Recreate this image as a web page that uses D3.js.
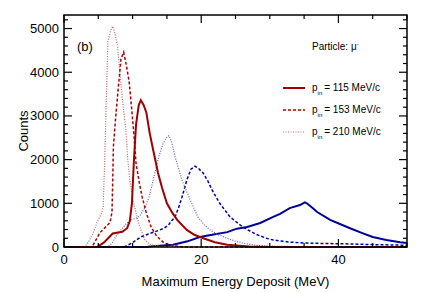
<!DOCTYPE html>
<html>
<head>
<meta charset="utf-8">
<script src="https://cdn.jsdelivr.net/npm/d3@7"></script>
<style>
  body { margin: 0; background: #fff; }
  text { font-family: "Liberation Sans", Arial, Helvetica, sans-serif; fill: #000; }
</style>
</head>
<body>
<div id="chart"></div>
<script>
// energy deposit (MeV), counts
var redSolid = [[0,0],[4.8,0],[5.8,100],[7.1,310],[8.5,350],[9.2,430],[9.6,600],[9.9,1000],[10.2,2000],[10.5,2800],[10.9,3250],[11.2,3360],[11.6,3250],[12.0,3080],[12.5,2600],[13.0,2220],[13.7,1700],[14.3,1350],[15.0,1000],[15.8,780],[16.5,620],[17.9,390],[19.0,280],[20.3,200],[22.0,110],[23.8,50],[27,10],[30,0],[50,0]];
var redDashed = [[0,0],[4.1,0],[5.2,320],[6.2,480],[6.7,560],[7.0,800],[7.1,1500],[7.2,2300],[7.5,2900],[7.8,3450],[8.3,4300],[8.7,4460],[9.1,4150],[9.5,3780],[9.9,3100],[10.2,2560],[10.5,1920],[11.0,1450],[11.4,1140],[12.0,780],[12.7,460],[13.5,250],[14.6,90],[16,30],[17.5,0],[50,0]];
var redDotted = [[0,0],[3.0,0],[3.5,100],[4.2,300],[4.8,560],[5.5,780],[5.7,900],[5.9,1800],[6.1,3000],[6.4,4700],[6.8,4950],[7.1,5050],[7.4,4900],[7.8,4600],[8.2,3900],[8.5,3400],[9.0,2700],[9.3,2000],[9.6,1530],[10.0,1100],[10.5,780],[11.0,480],[11.8,160],[12.5,60],[14,10],[15,0],[50,0]];
var blueSolid = [[0,0],[12,0],[13,20],[15.9,50],[18,130],[19.8,230],[22,290],[23.8,340],[25.2,420],[26.7,460],[28.6,550],[30.5,690],[31.5,760],[32.9,890],[34.4,960],[35.1,1020],[35.4,1000],[36.2,900],[36.9,800],[38.8,620],[40.3,520],[41.7,430],[43.3,330],[45,230],[47,160],[49,110],[50,90]];
var blueDashed = [[0,0],[8.7,0],[9.9,90],[11.2,230],[12.7,320],[13.8,380],[14.6,430],[15.2,500],[15.7,600],[16.2,690],[16.7,900],[17.2,1140],[17.9,1530],[18.5,1780],[19.1,1850],[19.6,1800],[20.3,1690],[21.0,1500],[21.6,1300],[22.7,1000],[24.2,690],[25.7,500],[26.7,400],[28.0,290],[29.5,200],[30.5,160],[33,110],[35.4,90],[38,80],[41.7,70],[45,55],[50,40]];
var blueDotted = [[0,0],[6.4,0],[7.0,90],[7.6,250],[8.3,390],[9.0,520],[9.8,620],[10.5,660],[11.0,700],[11.8,900],[12.4,1140],[13.1,1600],[13.8,2060],[14.4,2350],[15.0,2520],[15.3,2550],[15.7,2400],[16.2,2060],[17.2,1530],[18.4,1075],[19.5,690],[20.5,500],[21.3,390],[22.5,280],[23.8,200],[25,130],[26.7,70],[28,40],[30,20],[35,5],[50,0]];

var xTickLabels = [0, 20, 40];
var yTickLabels = [0, 1000, 2000, 3000, 4000, 5000];
var legendMomenta = ['115', '153', '210'];

var W = 429, H = 292;
var x = d3.scaleLinear().domain([0, 50]).range([64, 407]);
var y = d3.scaleLinear().domain([0, 5310]).range([247, 15]);

var svg = d3.select('#chart').append('svg')
	.attr('width', W).attr('height', H);

// spectra: blue first, red on top
var series = [
	{ data: blueSolid,  color: '#000099', width: 2,   dash: null },
	{ data: blueDashed, color: '#0000b0', width: 1.5, dash: '3,2' },
	{ data: blueDotted, color: '#5a5acc', width: 1.2, dash: '1,1.5' },
	{ data: redDotted,  color: '#c86464', width: 1.2, dash: '1,1.5' },
	{ data: redDashed,  color: '#b00000', width: 1.5, dash: '3,2' },
	{ data: redSolid,   color: '#a00000', width: 2,   dash: null }
];

var line = d3.line()
	.x(function(d) { return x(d[0]); })
	.y(function(d) { return y(d[1]); });

series.forEach(function(s) {
	svg.append('path')
		.attr('d', line(s.data))
		.attr('fill', 'none')
		.attr('stroke', s.color)
		.attr('stroke-width', s.width)
		.attr('stroke-dasharray', s.dash);
});

// frame + inward ticks (ROOT style)
var axisG = svg.append('g').attr('stroke', '#000');
axisG.append('rect')
	.attr('x', x(0)).attr('y', y.range()[1])
	.attr('width', x(50) - x(0)).attr('height', y(0) - y.range()[1])
	.attr('fill', 'none').attr('stroke-width', 1.5);

d3.range(0, 51, 5).forEach(function(v) {
	var len = (v % 20 === 0) ? 8 : 4;
	var px = x(v);
	axisG.append('line').attr('x1', px).attr('x2', px).attr('y1', 247).attr('y2', 247 - len).attr('stroke-width', 1.2);
	axisG.append('line').attr('x1', px).attr('x2', px).attr('y1', 15).attr('y2', 15 + len).attr('stroke-width', 1.2);
});
d3.range(0, 5301, 200).forEach(function(v) {
	var len = (v % 1000 === 0) ? 8 : 4;
	var py = y(v);
	axisG.append('line').attr('x1', 64).attr('x2', 64 + len).attr('y1', py).attr('y2', py).attr('stroke-width', 1.2);
	axisG.append('line').attr('x1', 407).attr('x2', 407 - len).attr('y1', py).attr('y2', py).attr('stroke-width', 1.2);
});

svg.selectAll('.xlab').data(xTickLabels).enter().append('text')
	.attr('x', function(d) { return x(d); })
	.attr('y', 264)
	.attr('text-anchor', 'middle')
	.attr('font-size', '13px')
	.text(function(d) { return d; });

svg.selectAll('.ylab').data(yTickLabels).enter().append('text')
	.attr('x', 59)
	.attr('y', function(d) { return y(d) + 4.5; })
	.attr('text-anchor', 'end')
	.attr('font-size', '13px')
	.text(function(d) { return d; });

svg.append('text')
	.attr('x', 235.5).attr('y', 286)
	.attr('text-anchor', 'middle')
	.attr('font-size', '13px')
	.text('Maximum Energy Deposit (MeV)');

svg.append('text')
	.attr('transform', 'translate(28,131) rotate(-90)')
	.attr('text-anchor', 'middle')
	.attr('font-size', '13px')
	.text('Counts');

svg.append('text')
	.attr('x', 77).attr('y', 51)
	.attr('font-size', '13px')
	.text('(b)');

var part = svg.append('text')
	.attr('x', 312).attr('y', 50)
	.attr('font-size', '10px')
	.text('Particle: \u03bc');
part.append('tspan').attr('dy', -4).attr('font-size', '6px').text('-');

// legend
var legStyles = [
	{ color: '#a00000', width: 2, dash: null },
	{ color: '#b00000', width: 1.5, dash: '3,2' },
	{ color: '#c86464', width: 1.2, dash: '1,1.5' }
];
legendMomenta.forEach(function(m, i) {
	var ly = 88 + i * 22;
	svg.append('line')
		.attr('x1', 283).attr('x2', 305)
		.attr('y1', ly).attr('y2', ly)
		.attr('stroke', legStyles[i].color)
		.attr('stroke-width', legStyles[i].width)
		.attr('stroke-dasharray', legStyles[i].dash);
	var t = svg.append('text')
		.attr('x', 312).attr('y', ly + 3)
		.attr('font-size', '10px')
		.text('p');
	t.append('tspan').attr('dy', 4).attr('font-size', '6px').text('in');
	t.append('tspan').attr('dy', -4).attr('dx', 2).text('= ' + m + ' MeV/c');
});
</script>
</body>
</html>
